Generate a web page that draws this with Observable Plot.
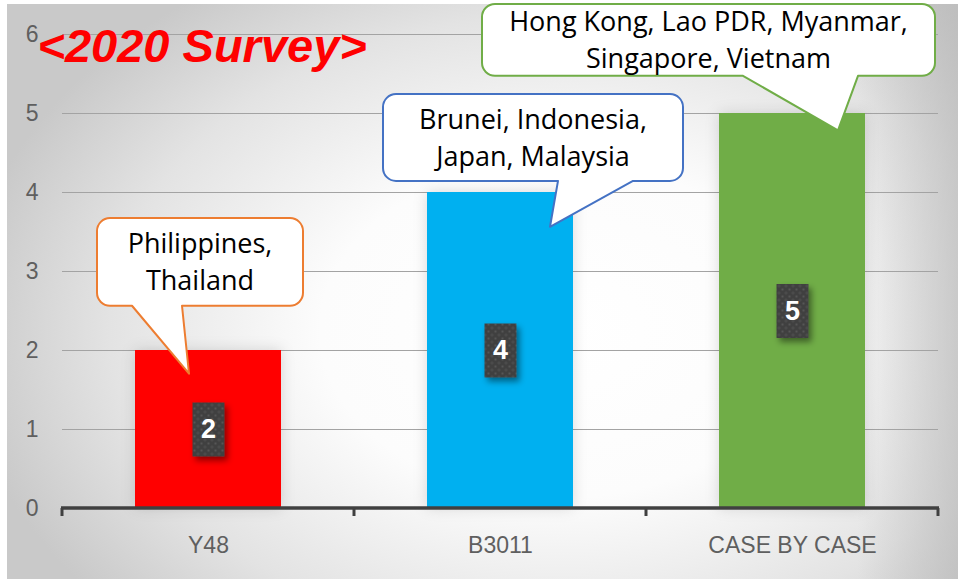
<!DOCTYPE html>
<html><head><meta charset="utf-8">
<script src="https://cdn.jsdelivr.net/npm/d3@7"></script>
<script src="https://cdn.jsdelivr.net/npm/@observablehq/plot@0.6"></script>
<style>
html,body{margin:0;padding:0;background:#fff;}
#wrap{position:absolute;left:0;top:0;width:958px;height:579px;overflow:hidden;}
#bg{position:absolute;left:7px;top:4px;right:0;bottom:0;
 background:
  linear-gradient(to left, rgba(185,185,185,0.65) 0px, rgba(185,185,185,0) 100px),
  radial-gradient(ellipse 600px 420px at 553px 326px,#ffffff 0%,#fcfcfc 40%,#e3e3e3 75%,#c9c9c9 100%);}
#chart{position:absolute;left:0;top:0;}
</style></head><body>
<div id="wrap"><div id="bg"></div><div id="chart"></div></div>
<script>
// ---- data ----
const categories = ["Y48", "B3011", "CASE BY CASE"];
const counts = [2, 4, 5];
const barColors = ["#FF0000", "#00B0F0", "#70AD47"];
const yTicks = [0, 1, 2, 3, 4, 5, 6];
const calloutLines = [
  ["Philippines,", "Thailand"],
  ["Brunei, Indonesia,", "Japan, Malaysia"],
  ["Hong Kong, Lao PDR, Myanmar,", "Singapore, Vietnam"]
];
const calloutStroke = ["#ED7D31", "#4472C4", "#70AD47"];
const titleText = "<2020 Survey>";

// ---- callout layout (pixel offsets from band centre, y in value units) ----
const calloutLayout = [
  {left: -111, right: 95,  top: 3.67, bottom: 2.56, base: [-76, -26], tipDx: -19, tipY: 1.70},
  {left: -117, right: 183, top: 5.24, bottom: 4.14, base: [58, 133],  tipDx: 50,  tipY: 3.56},
  {left: -310, right: 143, top: 6.38, bottom: 5.47, base: [-49, 66],  tipDx: 46,  tipY: 4.78}
];

const defsMark = () => {
  const g = d3.create("svg:g");
  const defs = g.append("defs");
  const p = defs.append("pattern").attr("id", "dotPat").attr("width", 7).attr("height", 7)
    .attr("patternUnits", "userSpaceOnUse");
  p.append("rect").attr("width", 7).attr("height", 7).attr("fill", "#3f3f3f");
  p.append("rect").attr("x", 1).attr("y", 1).attr("width", 2).attr("height", 2).attr("fill", "#575757");
  p.append("rect").attr("x", 4.5).attr("y", 4.5).attr("width", 2).attr("height", 2).attr("fill", "#575757");
  const f = defs.append("filter").attr("id", "lblShadow").attr("x", "-50%").attr("y", "-50%")
    .attr("width", "200%").attr("height", "200%");
  f.append("feDropShadow").attr("dx", 3).attr("dy", 4).attr("stdDeviation", 3)
    .attr("flood-color", "#000").attr("flood-opacity", 0.45);
  const f2 = defs.append("filter").attr("id", "barGlow").attr("x", "-30%").attr("y", "-10%")
    .attr("width", "160%").attr("height", "120%");
  f2.append("feDropShadow").attr("dx", 0).attr("dy", 0).attr("stdDeviation", 7)
    .attr("flood-color", "#000").attr("flood-opacity", 0.14);
  return g.node();
};

const baselineMark = (index, scales) => {
  const x = scales.x, y = scales.y;
  const step = x.step(), bw = x.bandwidth(), gap = (step - bw) / 2;
  const bounds = categories.map(c => x(c) - gap);
  bounds.push(x(categories[categories.length - 1]) + bw + gap);
  const g = d3.create("svg:g").attr("stroke", "#404040").attr("fill", "none");
  const y0 = y(0);
  g.append("line").attr("x1", bounds[0] - 1).attr("x2", bounds[bounds.length - 1] + 1)
    .attr("y1", y0).attr("y2", y0).attr("stroke-width", 3.5);
  bounds.forEach(b => g.append("line").attr("x1", b).attr("x2", b)
    .attr("y1", y0).attr("y2", y0 + 8).attr("stroke-width", 3));
  return g.node();
};

const calloutMark = (index, scales) => {
  const x = scales.x, y = scales.y, bw = x.bandwidth();
  const g = d3.create("svg:g");
  categories.forEach((c, i) => {
    const lay = calloutLayout[i];
    const cx = x(c) + bw / 2;
    const L = cx + lay.left, R = cx + lay.right, T = y(lay.top), B = y(lay.bottom), r = 13;
    const b1 = cx + lay.base[0], b2 = cx + lay.base[1];
    const tx = cx + lay.tipDx, ty = y(lay.tipY);
    const d = `M${L + r},${T}H${R - r}A${r},${r} 0 0 1 ${R},${T + r}V${B - r}` +
      `A${r},${r} 0 0 1 ${R - r},${B}H${b2}L${tx},${ty}L${b1},${B}H${L + r}` +
      `A${r},${r} 0 0 1 ${L},${B - r}V${T + r}A${r},${r} 0 0 1 ${L + r},${T}Z`;
    g.append("path").attr("d", d).attr("fill", "#fff").attr("stroke", calloutStroke[i])
      .attr("stroke-width", 2).attr("stroke-linejoin", "round");
    const mid = (T + B) / 2, lines = calloutLines[i], sp = 37;
    lines.forEach((t, k) => {
      const off = (k - (lines.length - 1) / 2) * sp;
      g.append("text").attr("x", (L + R) / 2).attr("y", mid + off)
        .attr("dy", "0.36em").attr("text-anchor", "middle")
        .attr("font-family", "'Open Sans', 'Noto Sans', sans-serif").attr("font-size", 27)
        .attr("fill", "#000").text(t);
    });
  });
  return g.node();
};

const chart = Plot.plot({
  width: 958,
  height: 579,
  marginLeft: 62,
  marginRight: 20,
  marginTop: 34,
  marginBottom: 71,
  style: {fontFamily: "'Liberation Sans', Arial, sans-serif", fontSize: "23px", color: "#5f5f5f", background: "transparent", overflow: "visible"},
  x: {domain: categories, paddingInner: 0.5, paddingOuter: 0.25},
  y: {domain: [0, 6]},
  color: {type: "identity"},
  marks: [
    defsMark,
    Plot.ruleY(yTicks, {stroke: "#a3a3a3", strokeWidth: 1.2}),
    Plot.barY(counts, {
      x: categories, y: counts, fill: barColors,
      render(index, scales, values, dimensions, context, next) {
        const g = next(index, scales, values, dimensions, context);
        g.setAttribute("filter", "url(#barGlow)");
        return g;
      }
    }),
    baselineMark,
    Plot.axisY({ticks: yTicks, tickSize: 0, tickPadding: 24, tickFormat: d => String(d), label: null, fontSize: 23}),
    Plot.axisX({tickSize: 0, tickPadding: 28, label: null, fontSize: 23}),
    Plot.text(counts, {
      x: categories, y: counts.map(v => v / 2), text: counts.map(String),
      fill: "#fff", fontWeight: "bold", fontSize: 27,
      render(index, scales, values, dimensions, context, next) {
        const g = next(index, scales, values, dimensions, context);
        const sel = d3.select(g);
        const texts = sel.selectAll("text").nodes();
        index.forEach((i, k) => {
          const node = texts[k];
          const bb = node.getAttribute("transform");
          let px = values.x ? values.x[i] : 0, py = values.y ? values.y[i] : 0;
          const m = bb && bb.match(/translate\(([-\d.]+),\s*([-\d.]+)\)/);
          if (m) { px = +m[1]; py = +m[2]; }
          else if (node.getAttribute("x") != null) { px = +node.getAttribute("x"); py = +node.getAttribute("y"); }
          sel.insert("rect", ":first-child").attr("x", px - 16).attr("y", py - 27)
            .attr("width", 32).attr("height", 54).attr("fill", "url(#dotPat)")
            .attr("filter", "url(#lblShadow)");
        });
        return g;
      }
    }),
    Plot.text([titleText], {
      text: d => d, frameAnchor: "top-left", dx: -25, dy: -6, textAnchor: "start",
      fill: "#FF0000", fontSize: 47, fontWeight: "bold", fontStyle: "italic",
      fontFamily: "'Liberation Sans', Arial, sans-serif"
    }),
    calloutMark
  ]
});
document.getElementById("chart").appendChild(chart);
</script>
</body></html>
